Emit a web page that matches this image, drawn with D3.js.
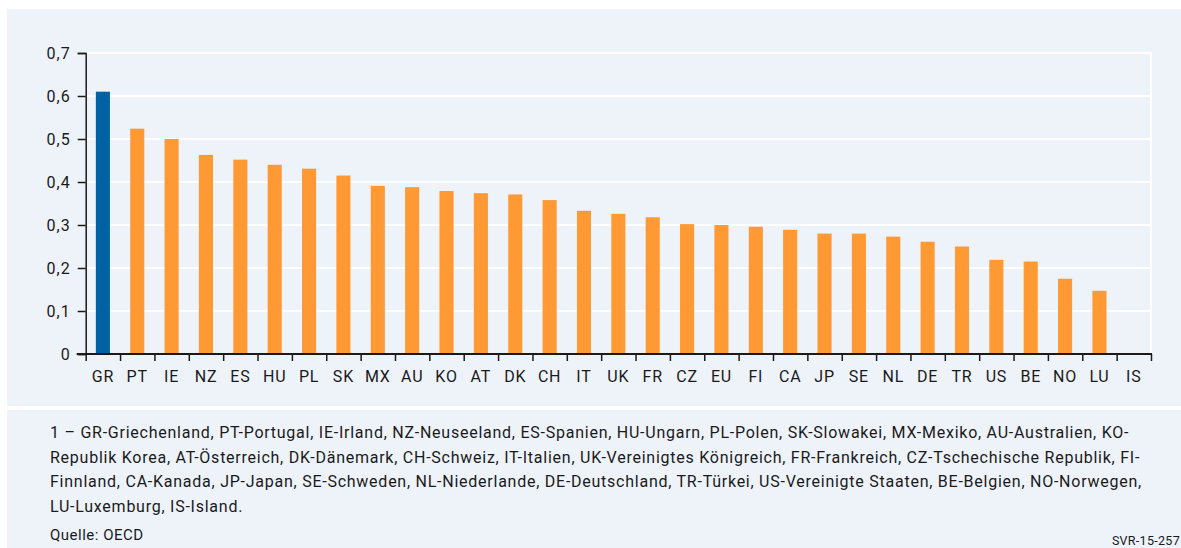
<!DOCTYPE html>
<html>
<head>
<meta charset="utf-8">
<script src="https://cdn.jsdelivr.net/npm/d3@7"></script>
<style>
  body { margin: 0; background: #fff; }
  svg text { font-family: Roboto, "Noto Sans", sans-serif; fill: #1a1a1a; }
</style>
</head>
<body>
<svg id="chart" width="1181" height="548"></svg>
<script>
// data
const countries = ["GR","PT","IE","NZ","ES","HU","PL","SK","MX","AU","KO","AT","DK","CH","IT","UK","FR","CZ","EU","FI","CA","JP","SE","NL","DE","TR","US","BE","NO","LU","IS"];
const values = [0.61,0.524,0.50,0.463,0.452,0.440,0.431,0.415,0.391,0.388,0.379,0.374,0.371,0.358,0.333,0.326,0.318,0.302,0.300,0.296,0.289,0.280,0.280,0.273,0.261,0.250,0.219,0.215,0.175,0.147,0];
const highlight = ["GR"];
const yTicks = [0,0.1,0.2,0.3,0.4,0.5,0.6,0.7];
const footnoteLines = [
  "1 – GR-Griechenland, PT-Portugal, IE-Irland, NZ-Neuseeland, ES-Spanien, HU-Ungarn, PL-Polen, SK-Slowakei, MX-Mexiko, AU-Australien, KO-",
  "Republik Korea, AT-Österreich, DK-Dänemark, CH-Schweiz, IT-Italien, UK-Vereinigtes Königreich, FR-Frankreich, CZ-Tschechische Republik, FI-",
  "Finnland, CA-Kanada, JP-Japan, SE-Schweden, NL-Niederlande, DE-Deutschland, TR-Türkei, US-Vereinigte Staaten, BE-Belgien, NO-Norwegen,",
  "LU-Luxemburg, IS-Island."
];
const source = "Quelle: OECD";
const code = "SVR-15-257";

const bgColor = "#eef3fa";
const blue = "#0062a3", orange = "#ff9933";

const svg = d3.select("#chart");

// panels
svg.append("rect").attr("x", 7).attr("y", 9).attr("width", 1174).attr("height", 397).attr("fill", bgColor);
svg.append("rect").attr("x", 7).attr("y", 410).attr("width", 1174).attr("height", 138).attr("fill", bgColor);

const plotLeft = 85.7, plotRight = 1151, plotTop = 53, plotBottom = 354;

const x = d3.scaleBand().domain(countries).range([plotLeft, plotRight]).paddingInner(0.59).paddingOuter(0.295);
const xEdges = d3.scaleLinear().domain([0, countries.length]).range([plotLeft, plotRight]);
const y = d3.scaleLinear().domain([0, 0.7]).range([plotBottom, plotTop]);

const de = d3.formatLocale({decimal: ",", thousands: ".", grouping: [3], currency: ["", " €"]});
const fmt = (d) => d === 0 ? "0" : de.format(".1f")(d);

// grid
svg.append("g").selectAll("line").data(yTicks.slice(1)).join("line")
  .attr("x1", plotLeft).attr("x2", plotRight)
  .attr("y1", (d) => y(d)).attr("y2", (d) => y(d))
  .attr("stroke", "#fff").attr("stroke-width", 2);
svg.append("line").attr("x1", plotRight).attr("x2", plotRight).attr("y1", y(0.7) - 1).attr("y2", plotBottom)
  .attr("stroke", "#fff").attr("stroke-width", 2);

// bars
svg.append("g").selectAll("rect").data(countries).join("rect")
  .attr("x", (d) => x(d))
  .attr("width", x.bandwidth())
  .attr("y", (d, i) => y(values[i]))
  .attr("height", (d, i) => plotBottom - y(values[i]))
  .attr("fill", (d) => highlight.includes(d) ? blue : orange);

// y axis
const yAxis = svg.append("g").attr("transform", `translate(${plotLeft},0)`)
  .call(d3.axisLeft(y).tickValues(yTicks).tickFormat(fmt).tickSize(8).tickPadding(7));
yAxis.select(".domain").attr("stroke", "#1a1a1a").attr("stroke-width", 1.5);
yAxis.selectAll(".tick line").attr("stroke", "#1a1a1a").attr("stroke-width", 1.5);
yAxis.selectAll("text").style("font-size", "16px").style("letter-spacing", "1px").attr("fill", "#1a1a1a");

// x axis: boundary ticks
const xAxis = svg.append("g").attr("transform", `translate(0,${plotBottom})`)
  .call(d3.axisBottom(xEdges).tickValues(d3.range(countries.length + 1)).tickFormat("").tickSizeOuter(0).tickSize(7));
xAxis.select(".domain").remove();
xAxis.selectAll(".tick line").attr("stroke", "#1a1a1a").attr("stroke-width", 1.5);
svg.append("line").attr("x1", plotLeft - 9).attr("x2", plotRight + 1).attr("y1", plotBottom).attr("y2", plotBottom)
  .attr("stroke", "#1a1a1a").attr("stroke-width", 2);

// x labels
const xLabels = svg.append("g").attr("transform", `translate(0,${plotBottom})`)
  .call(d3.axisBottom(x).tickSize(0).tickPadding(0));
xLabels.select(".domain").remove();
xLabels.selectAll("text").attr("y", 28).attr("dy", 0).style("font-size", "16px").style("letter-spacing", "0.8px").attr("fill", "#1a1a1a");

// footnote
svg.append("g").selectAll("text").data(footnoteLines).join("text")
  .attr("x", 50).attr("y", (d, i) => 438 + i * 24.5)
  .style("font-size", "16px").style("letter-spacing", "0.75px")
  .text((d) => d);

svg.append("text").attr("x", 50).attr("y", 540).style("font-size", "15px").style("letter-spacing", "0.5px").text(source);
svg.append("text").attr("x", 1180).attr("y", 545).attr("text-anchor", "end").style("font-size", "12.5px").style("letter-spacing", "0.3px").text(code);
</script>
</body>
</html>
